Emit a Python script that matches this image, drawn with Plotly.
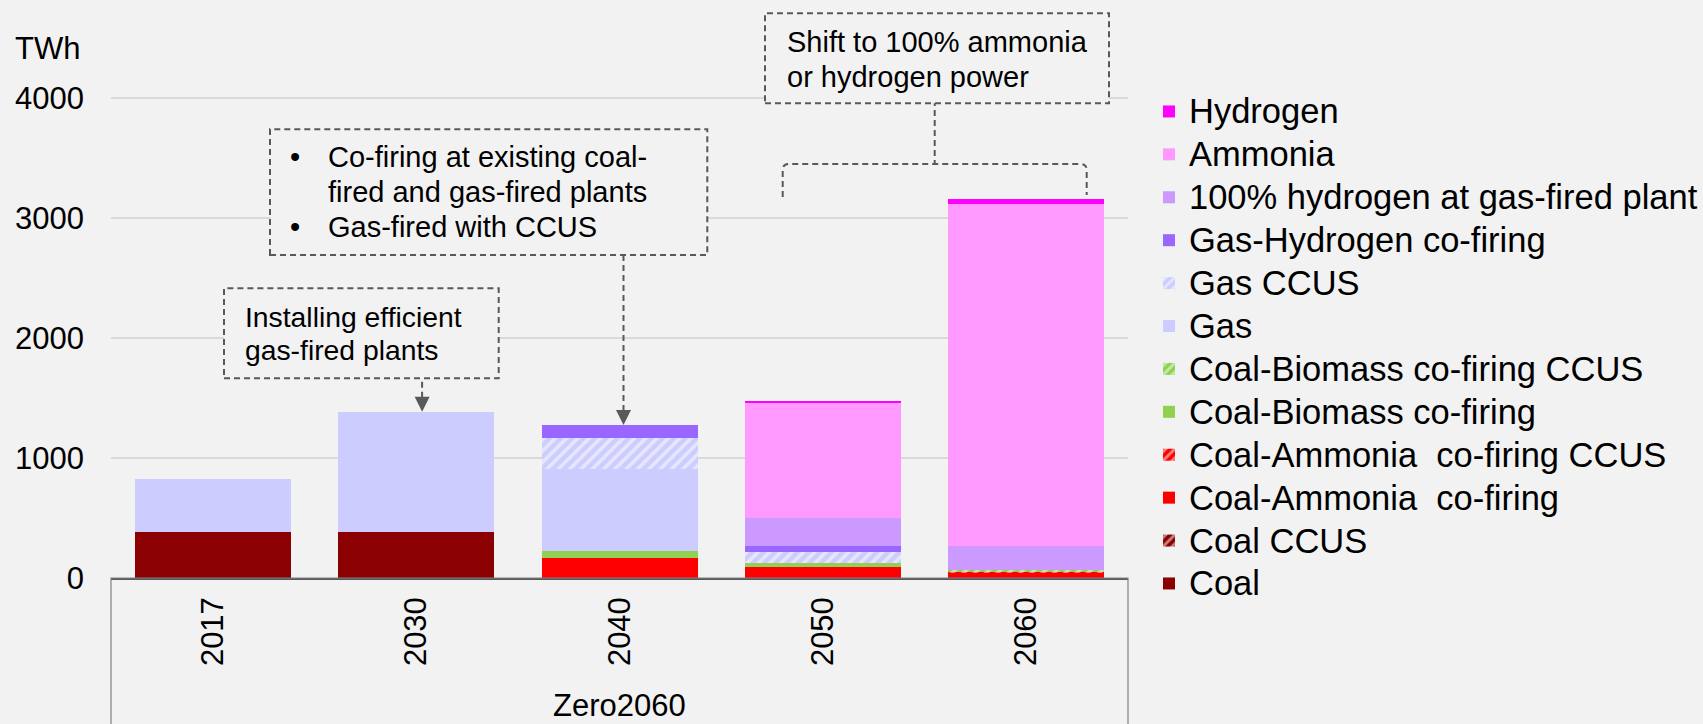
import plotly.graph_objects as go

# ---------------- data ----------------
years = ["2017", "2030", "2040", "2050", "2060"]

coal = [380, 380, 0, 0, 0]
coal_ccus = [0, 0, 0, 0, 0]
coal_nh3 = [0, 0, 169, 92, 42]
coal_nh3_ccus = [0, 0, 0, 0, 6]
coal_bio = [0, 0, 56, 37, 0]
coal_bio_ccus = [0, 0, 0, 0, 22]
gas = [442, 1006, 683, 0, 0]
gas_ccus = [0, 0, 256, 88, 0]
gas_h2 = [0, 0, 111, 50, 0]
h2_100 = [0, 0, 0, 234, 199]
ammonia = [0, 0, 0, 958, 2850]
hydrogen = [0, 0, 0, 11, 39]

y_ticks = [0, 1000, 2000, 3000, 4000]
unit_label = "TWh"
group_label = "Zero2060"

series = [
    ("Coal", coal, "#8B0000", None),
    ("Coal CCUS", coal_ccus, "#8B0000", "/"),
    ("Coal-Ammonia  co-firing", coal_nh3, "#FF0000", None),
    ("Coal-Ammonia  co-firing CCUS", coal_nh3_ccus, "#FF0000", "/"),
    ("Coal-Biomass co-firing", coal_bio, "#92D050", None),
    ("Coal-Biomass co-firing CCUS", coal_bio_ccus, "#92D050", "/"),
    ("Gas", gas, "#CCCCFF", None),
    ("Gas CCUS", gas_ccus, "#CCCCFF", "/"),
    ("Gas-Hydrogen co-firing", gas_h2, "#9966FF", None),
    ("100% hydrogen at gas-fired plant", h2_100, "#CC99FF", None),
    ("Ammonia", ammonia, "#FF99FF", None),
    ("Hydrogen", hydrogen, "#FF00FF", None),
]

totals = [sum(s[1][i] for s in series) for i in range(len(years))]

# ---------------- layout geometry (pixels) ----------------
W, H = 1703, 724
Y0 = 578            # pixel row of value 0
Y_TOP_TICK = 98     # pixel row of the top tick value
L, PW = 111, 1017
T = 0
PH = Y0 - T
R = W - L - PW
B = H - Y0
y_max = y_ticks[-1] * (Y0 - T) / (Y0 - Y_TOP_TICK)


def px(x):
    return (x - L) / PW


def py(y):
    return (Y0 - y) / PH


FONT = "Liberation Sans, Arial, sans-serif"
DASH_COL = "#595959"
BG = "#F2F2F2"

fig = go.Figure()
for name, vals, col, pat in series:
    marker = dict(color=col, line=dict(width=0))
    if pat:
        marker["pattern"] = dict(shape=pat, fgcolor="#FFFFFF", fillmode="overlay",
                                 size=8, solidity=0.45)
    fig.add_trace(go.Bar(
        x=years, y=vals,
        name='<span style="font-size:34.5px">' + name + '</span>',
        marker=marker,
    ))

shapes = []
# x-axis category box
shapes.append(dict(type="rect", xref="paper", yref="paper", x0=0, x1=1,
                   y0=py(H + 10), y1=0, line=dict(color="#808080", width=1.2),
                   layer="above"))

dash_line = dict(color=DASH_COL, width=2, dash="6px,4px")

# arrow 1 -> 2030 bar top
shapes.append(dict(type="path", xref="x", yref="y", xsizemode="pixel", ysizemode="pixel",
                   xanchor=1, yanchor=totals[1], path="M6,14 L6,50",
                   line=dash_line, layer="above"))
shapes.append(dict(type="path", xref="x", yref="y", xsizemode="pixel", ysizemode="pixel",
                   xanchor=1, yanchor=totals[1], path="M-1.5,15 L13.5,15 L6,0 Z",
                   fillcolor=DASH_COL, line=dict(width=0), layer="above"))
# arrow 2 -> 2040 bar top
shapes.append(dict(type="path", xref="x", yref="y", xsizemode="pixel", ysizemode="pixel",
                   xanchor=2, yanchor=totals[2], path="M4,14 L4,190",
                   line=dash_line, layer="above"))
shapes.append(dict(type="path", xref="x", yref="y", xsizemode="pixel", ysizemode="pixel",
                   xanchor=2, yanchor=totals[2], path="M-3.5,15 L11.5,15 L4,0 Z",
                   fillcolor=DASH_COL, line=dict(width=0), layer="above"))

# connector + bracket for box 3
shapes.append(dict(type="line", xref="paper", yref="paper",
                   x0=px(934.7), x1=px(934.7), y0=py(100), y1=py(164),
                   line=dash_line, layer="above"))
bx0, bx1, by, bl, br = 782.7, 1086.7, 164, 197, 195
bracket = (f"M{px(bx0)},{py(bl)} L{px(bx0)},{py(by + 6)} "
           f"Q{px(bx0)},{py(by)} {px(bx0 + 6)},{py(by)} "
           f"L{px(bx1 - 6)},{py(by)} Q{px(bx1)},{py(by)} {px(bx1)},{py(by + 6)} "
           f"L{px(bx1)},{py(br)}")
shapes.append(dict(type="path", xref="paper", yref="paper", path=bracket,
                   line=dash_line, layer="above"))

# dashed text boxes
for (x0, y0, x1, y1) in [(224, 288.3, 498.7, 378.3), (270, 129.3, 707.3, 255),
                         (765, 13.3, 1109, 103.3)]:
    shapes.append(dict(type="rect", xref="paper", yref="paper",
                       x0=px(x0), x1=px(x1), y0=py(y1), y1=py(y0),
                       fillcolor=BG, line=dash_line, layer="above"))

annotations = []


def txt(text, x, y, size, xanchor="left"):
    annotations.append(dict(text=text, xref="paper", yref="paper", x=px(x), y=py(y),
                            xanchor=xanchor, yanchor="middle", showarrow=False,
                            font=dict(family=FONT, size=size, color="#000000")))


txt(unit_label, 82, 49, 31, "right")
txt(group_label, 619.5, 705, 31, "center")
txt("Installing efficient", 243.3, 316.7, 28.3)
txt("gas-fired plants", 243.3, 350, 28.3)
txt("•", 295, 157.3, 29, "center")
txt("•", 295, 227.3, 29, "center")
txt("Co-firing at existing coal-", 326, 157.3, 29)
txt("fired and gas-fired plants", 326, 191.7, 29)
txt("Gas-fired with CCUS", 326, 227.3, 29)
txt("Shift to 100% ammonia", 785, 41.7, 29)
txt("or hydrogen power", 785, 76.7, 29)

fig.update_layout(
    width=W, height=H,
    margin=dict(l=L, r=R, t=T, b=B, pad=0),
    paper_bgcolor=BG, plot_bgcolor=BG,
    barmode="stack", bargap=0.233,
    font=dict(family=FONT, color="#000000"),
    showlegend=True,
    legend=dict(x=px(1149), y=py(85), xanchor="left", yanchor="top",
                traceorder="reversed", bgcolor="rgba(0,0,0,0)",
                font=dict(family=FONT, size=30.7, color="#000000")),
    xaxis=dict(type="category", tickangle=-90, tickfont=dict(size=31),
               showline=True, linecolor="#595959", linewidth=1.5,
               ticks="", ticklabelstandoff=5, showgrid=False),
    yaxis=dict(range=[0, y_max], tickvals=y_ticks, tickfont=dict(size=31),
               showgrid=True, gridcolor="#D9D9D9", gridwidth=1.5,
               zeroline=False, ticks="", ticklabelstandoff=26, showline=False),
    shapes=shapes,
    annotations=annotations,
)

fig.write_html("out.html", config={"displayModeBar": False},
               post_script="document.body.style.margin='0';")
